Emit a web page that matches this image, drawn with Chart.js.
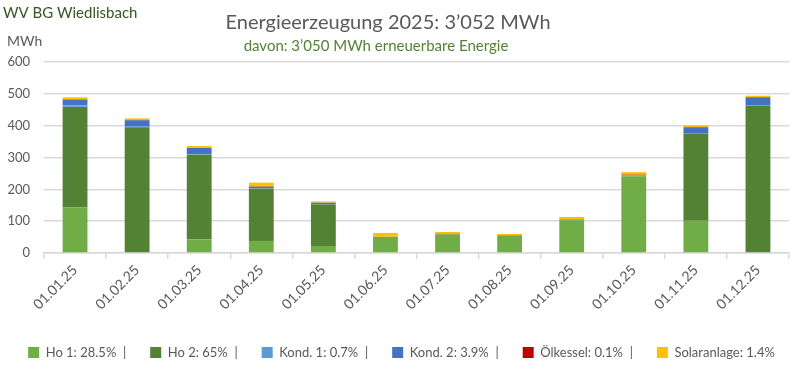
<!DOCTYPE html>
<html>
<head>
<meta charset="utf-8">
<script src="https://cdn.jsdelivr.net/npm/chart.js@4.4.1/dist/chart.umd.min.js"></script>
<style>
  html, body { margin: 0; padding: 0; background: #fff; }
  #wrap { width: 803px; height: 371px; }
</style>
</head>
<body>
<div id="wrap"><canvas id="energyChart" width="803" height="371"></canvas></div>
<script>
// Monatswerte in MWh (aus dem Bild geschätzt)
const months = ['01.01.25', '01.02.25', '01.03.25', '01.04.25', '01.05.25', '01.06.25',
                '01.07.25', '01.08.25', '01.09.25', '01.10.25', '01.11.25', '01.12.25'];
const ho1 =        [143, 0, 43, 38, 22, 51, 59, 54, 103, 241, 101, 0];
const ho2 =        [316, 395, 266, 165, 130, 0, 0, 0, 0, 0, 274, 462];
const kond1 =      [5, 2, 2, 1, 1, 0, 0, 0, 1, 3, 2, 3];
const kond2 =      [17, 20, 19, 4, 5, 0, 0, 0, 0, 1, 18, 24];
const oelkessel =  [1, 1, 0, 1, 0, 0, 1, 1, 1, 1, 1, 1];
const solar =      [7, 5, 6, 12, 4, 12, 6, 5, 8, 8, 5, 4];
const legendText = ['Ho 1: 28.5%  |', 'Ho 2: 65%  |', 'Kond. 1: 0.7%  |',
                    'Kond. 2: 3.9%  |', 'Ölkessel: 0.1%  |', 'Solaranlage: 1.4%'];
const yTicks = [0, 100, 200, 300, 400, 500, 600];

const FONT = 'Lato, "Open Sans", sans-serif';

// Titel und Beschriftungen oben
const headerText = {
    id: 'headerText',
    afterDraw(chart) {
        const c = chart.ctx;
        c.save();
        c.textBaseline = 'middle';
        c.textAlign = 'left';
        c.fillStyle = '#375623';
        c.font = '15px ' + FONT;
        c.fillText('WV BG Wiedlisbach', 3, 13);
        c.fillStyle = '#595959';
        c.font = '14px ' + FONT;
        c.fillText('MWh', 7, 41);
        c.textAlign = 'center';
        c.font = '20px ' + FONT;
        c.fillText('Energieerzeugung 2025: 3’052 MWh', 388, 23);
        c.fillStyle = '#548235';
        c.font = '15px ' + FONT;
        c.fillText('davon: 3’050 MWh erneuerbare Energie', 376, 46);
        c.restore();
    }
};

const ctx = document.getElementById('energyChart').getContext('2d');
const energyChart = new Chart(ctx, {
    type: 'bar',
    data: {
        labels: months,
        datasets: [
            { label: legendText[0], data: ho1, backgroundColor: '#70AD47' },
            { label: legendText[1], data: ho2, backgroundColor: '#548235' },
            { label: legendText[2], data: kond1, backgroundColor: '#5B9BD5' },
            { label: legendText[3], data: kond2, backgroundColor: '#4472C4' },
            { label: legendText[4], data: oelkessel, backgroundColor: '#C00000' },
            { label: legendText[5], data: solar, backgroundColor: '#FFC000' }
        ]
    },
    options: {
        responsive: false,
        animation: false,
        layout: { padding: { top: 62, right: 0, bottom: 2, left: 0 } },
        datasets: {
            bar: { categoryPercentage: 1, barPercentage: 0.4 }
        },
        scales: {
            x: {
                stacked: true,
                afterFit(axis) { axis.height += 6; },
                grid: { drawOnChartArea: false, drawTicks: true, tickLength: 6, color: '#d9d9d9', lineWidth: 1.5 },
                border: { color: '#d9d9d9', width: 1.5 },
                ticks: { color: '#595959', font: { family: FONT, size: 14 }, minRotation: 45, maxRotation: 45, padding: 3 }
            },
            y: {
                stacked: true,
                min: 0,
                max: 600,
                afterFit(axis) { axis.width = 44; },
                afterBuildTicks(axis) { axis.ticks = yTicks.map(v => ({ value: v })); },
                grid: { color: '#d9d9d9', lineWidth: 1.5, drawTicks: false },
                border: { display: false },
                ticks: { color: '#595959', font: { family: FONT, size: 13 }, padding: 14 }
            },
            // leere Achse rechts, nur als Abstand
            yRight: {
                position: 'right',
                min: 0,
                max: 600,
                afterFit(axis) { axis.width = 14; },
                grid: { drawOnChartArea: false, drawTicks: false },
                border: { display: false },
                ticks: { display: false }
            }
        },
        plugins: {
            legend: {
                position: 'bottom',
                labels: {
                    boxWidth: 11,
                    boxHeight: 11,
                    padding: 24,
                    color: '#595959',
                    font: { family: FONT, size: 13 }
                }
            },
            tooltip: { enabled: false }
        }
    },
    plugins: [headerText]
});
</script>
</body>
</html>
